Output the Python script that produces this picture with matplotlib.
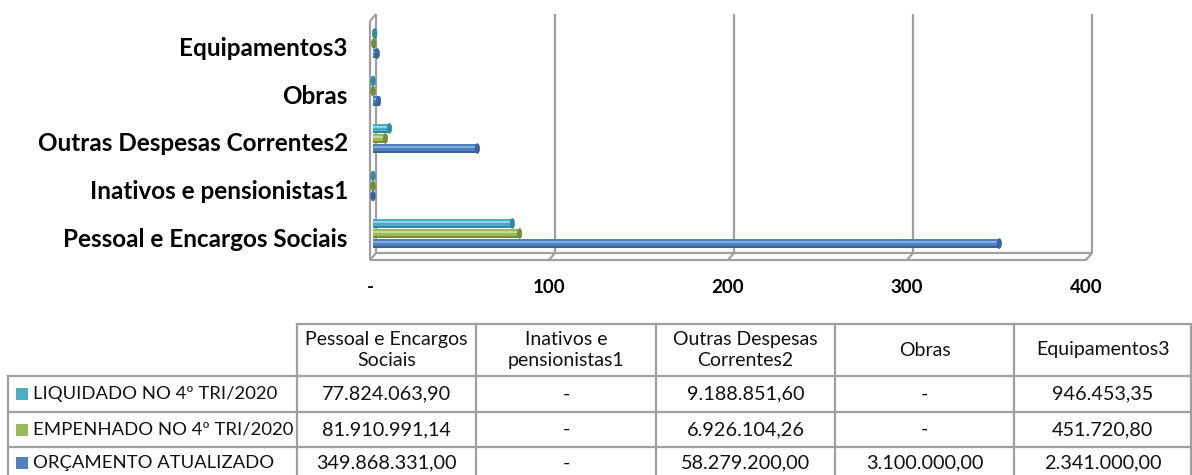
import matplotlib
matplotlib.use("Agg")
import matplotlib.pyplot as plt
from matplotlib.patches import Ellipse, Rectangle
from matplotlib.lines import Line2D

plt.rcParams['font.family'] = ['Lato', 'DejaVu Sans']

# ---------------- data ----------------
categories = ["Pessoal e Encargos Sociais", "Inativos e pensionistas1",
              "Outras Despesas Correntes2", "Obras", "Equipamentos3"]
header_labels = ["Pessoal e Encargos\nSociais", "Inativos e\npensionistas1",
                 "Outras Despesas\nCorrentes2", "Obras", "Equipamentos3"]
series_names = ["LIQUIDADO NO 4º TRI/2020", "EMPENHADO NO 4º TRI/2020",
                "ORÇAMENTO ATUALIZADO"]
liquidado = [77824063.90, 0.0, 9188851.60, 0.0, 946453.35]
empenhado = [81910991.14, 0.0, 6926104.26, 0.0, 451720.80]
orcamento = [349868331.00, 0.0, 58279200.00, 3100000.00, 2341000.00]
xticks = [0, 100, 200, 300, 400]
xtick_labels = ["-", "100", "200", "300", "400"]

series = [liquidado, empenhado, orcamento]
colors = ["#4BACC6", "#9BBB59", "#4F81BD"]
light = ["#8FD3E6", "#C6DC95", "#86AEE3"]
dark = ["#2E8AA3", "#728F36", "#35649E"]

W, H = 1192, 475
fig = plt.figure(figsize=(W / 100, H / 100), dpi=100)

# ---------------- chart ----------------
x0px, x1px, ytop, ybot = 370, 1086, 21, 260
ax = fig.add_axes([x0px / W, (H - ybot) / H, (x1px - x0px) / W, (ybot - ytop) / H])
ylo, yhi = -0.484, 4.547
ax.set_xlim(0, 400)
ax.set_ylim(ylo, yhi)
for s in ax.spines.values():
    s.set_visible(False)

ppx = (x1px - x0px) / 400.0          # px per unit x
ppy = (ybot - ytop) / (yhi - ylo)    # px per unit y
dx = 6 / ppx
dy = 7 / ppy
wall = dict(color="#A0A0A0", lw=1.6, clip_on=False, solid_capstyle="butt", zorder=1)

# back wall gridlines + floor diagonals
for t in xticks:
    ax.add_line(Line2D([t + dx, t + dx], [ylo + dy, yhi + dy], **wall))
    ax.add_line(Line2D([t, t + dx], [ylo, ylo + dy], **wall))
# left wall
ax.add_line(Line2D([0, 0], [ylo, yhi], **wall))
ax.add_line(Line2D([0, dx], [yhi, yhi + dy], **wall))
# floor
ax.add_line(Line2D([0, 400], [ylo, ylo], **wall))
ax.add_line(Line2D([dx, 400 + dx], [ylo + dy, ylo + dy], **wall))

# bars (cylinders)
bh = 0.205
pitch = 0.212
offsets = [pitch, 0.0, -pitch]
for si, vals in enumerate(series):
    for ci, v in enumerate(vals):
        val = v / 1e6
        yc = ci + offsets[si] + dy / 2
        left = dx / 2
        if val > 0:
            ax.barh(yc, val, height=bh, left=left, color=colors[si], zorder=3)
            ax.barh(yc - 0.36 * bh, val, height=0.28 * bh, left=left, color=dark[si], zorder=3.1)
            ax.barh(yc + 0.18 * bh, val, height=0.22 * bh, left=left, color=light[si], zorder=3.2)
        ax.add_patch(Ellipse((left + val, yc), width=4.5 / ppx, height=bh,
                             facecolor=dark[si], edgecolor=dark[si], lw=0.5, zorder=3.5))

ax.set_yticks(range(len(categories)))
ax.set_yticklabels(categories, fontsize=17.5, fontweight="bold")
ax.set_xticks(xticks)
ax.set_xticklabels(xtick_labels, fontsize=13.5, fontweight="bold")
ax.tick_params(axis="y", length=0, pad=16)
ax.tick_params(axis="x", length=0, pad=14)
ax.patch.set_alpha(0)

# ---------------- data table ----------------
tab = fig.add_axes([0, 0, 1, 1], zorder=-1)
tab.set_xlim(0, W)
tab.set_ylim(H, 0)
tab.axis("off")

col_x = [8, 297, 476, 656, 835, 1014, 1191]
row_y = [324, 376, 412, 447, 482]
tl = dict(color="#A0A0A0", lw=1.6, solid_capstyle="projecting")

# horizontal lines
tab.add_line(Line2D([col_x[1], col_x[-1]], [row_y[0], row_y[0]], **tl))
for yy in row_y[1:4]:
    tab.add_line(Line2D([col_x[0], col_x[-1]], [yy, yy], **tl))
# vertical lines
tab.add_line(Line2D([col_x[0], col_x[0]], [row_y[1], row_y[-1]], **tl))
for xx in col_x[1:]:
    tab.add_line(Line2D([xx, xx], [row_y[0], row_y[-1]], **tl))

hdr_c = (row_y[0] + row_y[1]) / 2
for ci, lab in enumerate(header_labels):
    xc = (col_x[ci + 1] + col_x[ci + 2]) / 2
    tab.text(xc, hdr_c, lab, ha="center", va="center", fontsize=14,
             linespacing=1.3, color="#111111")


def fmt(v):
    if v == 0:
        return "-"
    s = f"{v:,.2f}"
    return s.replace(",", "X").replace(".", ",").replace("X", ".")


row_centers = [394, 429.5, 463]
for si, (name, vals) in enumerate(zip(series_names, series)):
    yc = row_centers[si]
    tab.add_patch(Rectangle((16, yc - 6), 12, 12, facecolor=colors[si], edgecolor="none"))
    tab.text(33, yc, name, ha="left", va="center", fontsize=13.3, color="#111111")
    for ci, v in enumerate(vals):
        xc = (col_x[ci + 1] + col_x[ci + 2]) / 2
        tab.text(xc, yc, fmt(v), ha="center", va="center", fontsize=14.3, color="#111111")

fig.savefig("out.png", dpi=100)
